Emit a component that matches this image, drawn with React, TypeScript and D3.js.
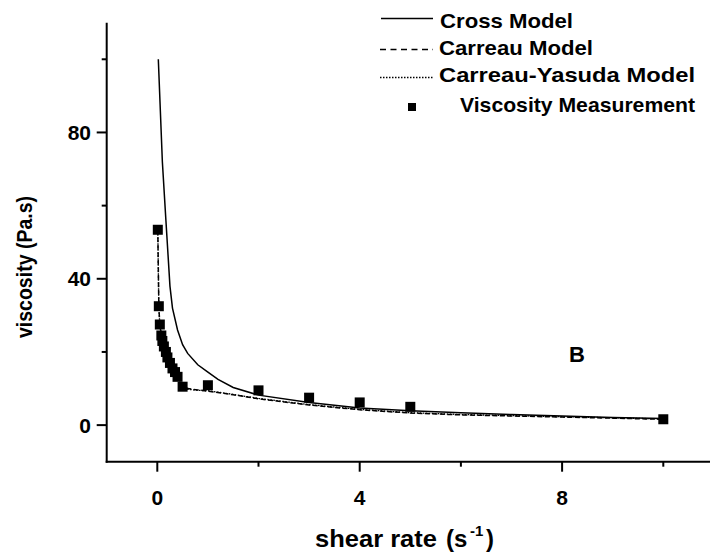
import React from "react";
import * as d3 from "d3";

const measX = [0.01, 0.03, 0.05, 0.08, 0.1, 0.13, 0.17, 0.2, 0.25, 0.3, 0.35, 0.4, 0.5, 1, 2, 3, 4, 5, 10];
const measY = [53.4, 32.5, 27.5, 24.5, 23, 21.5, 20, 18.5, 17, 15.5, 14.5, 13.2, 10.5, 10.9, 9.5, 7.5, 6.2, 5.0, 1.6];

const crossX = [0.02, 0.1, 0.17, 0.25, 0.3, 0.4, 0.5, 0.6, 0.8, 1.0, 1.2, 1.5, 2.0, 3.0, 4.0, 5.0, 6.0, 7.0, 8.0, 9.0, 10.0];
const crossY = [100, 72, 56, 38, 32, 26, 22, 19.6, 16.5, 14.5, 12.5, 10.3, 8.2, 6.2, 4.7, 3.9, 3.4, 2.9, 2.5, 2.1, 1.8];

const carX = [0.01, 0.03, 0.05, 0.08, 0.1, 0.15, 0.2, 0.3, 0.4, 0.5, 0.6, 0.8, 1.0, 1.5, 2.0, 3.0, 4.0, 5.0, 6.0, 7.0, 8.0, 9.0, 10.0];
const carY = [53.4, 32.5, 27.5, 24.5, 23, 20.5, 18.5, 15.5, 13.2, 11, 10, 9.6, 9.3, 8.3, 7.2, 5.5, 4.2, 3.3, 2.8, 2.5, 2.2, 1.9, 1.6];

const cyX = [0.01, 0.03, 0.05, 0.08, 0.1, 0.15, 0.2, 0.3, 0.4, 0.5, 0.6, 0.8, 1.0, 1.5, 2.0, 3.0, 4.0, 5.0, 6.0, 7.0, 8.0, 9.0, 10.0];
const cyY = [53.0, 32.3, 27.4, 24.4, 22.9, 20.4, 18.4, 15.4, 13.1, 10.8, 9.8, 9.5, 9.4, 8.4, 7.3, 5.6, 4.3, 3.4, 2.9, 2.6, 2.3, 2.0, 1.7];

const yMajor = [0, 40, 80];
const yMinor = [20, 60, 100];
const xMajor = [0, 4, 8];
const xMinor = [2, 6, 10];

const legendLabels = ["Cross Model", "Carreau Model", "Carreau-Yasuda Model", "Viscosity Measurement"];

const FONT = "'Liberation Sans', Arial, Helvetica, sans-serif";

export default function App() {
  const W = 710, H = 558;
  const left = 106.7, bottom = 461.7, top = 22.7;
  const x = d3.scaleLinear().domain([-1, 11]).range([left, left + 12 * 50.6]);
  const y = d3.scaleLinear().domain([-10, 110]).range([bottom, top]);

  const line = d3.line<[number, number]>().x((d) => x(d[0])).y((d) => y(d[1]));
  const cross = line(crossX.map((v, i) => [v, crossY[i]] as [number, number])) || "";
  const car = line(carX.map((v, i) => [v, carY[i]] as [number, number])) || "";
  const cy = line(cyX.map((v, i) => [v, cyY[i]] as [number, number])) || "";

  const sq = 10;
  return (
    <svg width={W} height={H} style={{ position: "absolute", left: 0, top: 0, background: "#fff" }} fontFamily={FONT}>
      <rect x={0} y={0} width={W} height={H} fill="#fff" />
      {/* curves */}
      <path d={cross} fill="none" stroke="#000" strokeWidth={1.5} />
      <path d={car} fill="none" stroke="#000" strokeWidth={1.5} strokeDasharray="5,2.5" />
      <path d={cy} fill="none" stroke="#000" strokeWidth={1.3} strokeDasharray="1.5,1.5" />
      {/* measurements */}
      {measX.map((v, i) => (
        <rect key={i} x={x(v) - sq / 2} y={y(measY[i]) - sq / 2} width={sq} height={sq} fill="#000" />
      ))}
      {/* axes */}
      <line x1={left} x2={left} y1={top} y2={bottom + 1} stroke="#000" strokeWidth={2} />
      <line x1={left - 1} x2={W} y1={bottom} y2={bottom} stroke="#000" strokeWidth={2} />
      {yMajor.map((t) => (
        <g key={"ym" + t}>
          <line x1={left - 10} x2={left} y1={y(t)} y2={y(t)} stroke="#000" strokeWidth={2} />
          <text x={91} y={y(t) + 7.5} textAnchor="end" fontSize={21} fontWeight="bold">{t}</text>
        </g>
      ))}
      {yMinor.map((t) => (
        <line key={"yn" + t} x1={left - 5} x2={left} y1={y(t)} y2={y(t)} stroke="#000" strokeWidth={2} />
      ))}
      {xMajor.map((t) => (
        <g key={"xm" + t}>
          <line x1={x(t)} x2={x(t)} y1={bottom} y2={bottom + 10} stroke="#000" strokeWidth={2} />
          <text x={x(t)} y={505} textAnchor="middle" fontSize={21} fontWeight="bold">{t}</text>
        </g>
      ))}
      {xMinor.map((t) => (
        <line key={"xn" + t} x1={x(t)} x2={x(t)} y1={bottom} y2={bottom + 5} stroke="#000" strokeWidth={2} />
      ))}
      {/* axis titles */}
      <text transform="translate(32,267) rotate(-90)" textAnchor="middle" fontSize={22} fontWeight="bold" textLength={142} lengthAdjust="spacingAndGlyphs">viscosity (Pa.s)</text>
      <text x={315} y={547} fontSize={24} fontWeight="bold" textLength={122} lengthAdjust="spacingAndGlyphs">shear rate</text>
      <text x={446} y={547} fontSize={24} fontWeight="bold">(s</text>
      <text x={470} y={536} fontSize={15} fontWeight="bold">-1</text>
      <text x={486} y={547} fontSize={24} fontWeight="bold">)</text>
      <text x={569} y={362} fontSize={22} fontWeight="bold">B</text>
      {/* legend */}
      <line x1={381} x2={433} y1={18.5} y2={18.5} stroke="#000" strokeWidth={1.5} />
      <line x1={380} x2={433} y1={49.5} y2={49.5} stroke="#000" strokeWidth={1.5} strokeDasharray="6,4.5" />
      <line x1={380} x2={433} y1={77.5} y2={77.5} stroke="#000" strokeWidth={1.3} strokeDasharray="1.5,1.5" />
      <rect x={408} y={103} width={8} height={8} fill="#000" />
      <text x={440} y={28} fontSize={21} fontWeight="bold" textLength={133} lengthAdjust="spacingAndGlyphs">{legendLabels[0]}</text>
      <text x={439} y={55} fontSize={21} fontWeight="bold" textLength={154} lengthAdjust="spacingAndGlyphs">{legendLabels[1]}</text>
      <text x={439} y={82} fontSize={21} fontWeight="bold" textLength={256} lengthAdjust="spacingAndGlyphs">{legendLabels[2]}</text>
      <text x={460} y={112} fontSize={21} fontWeight="bold" textLength={235} lengthAdjust="spacingAndGlyphs">{legendLabels[3]}</text>
    </svg>
  );
}
